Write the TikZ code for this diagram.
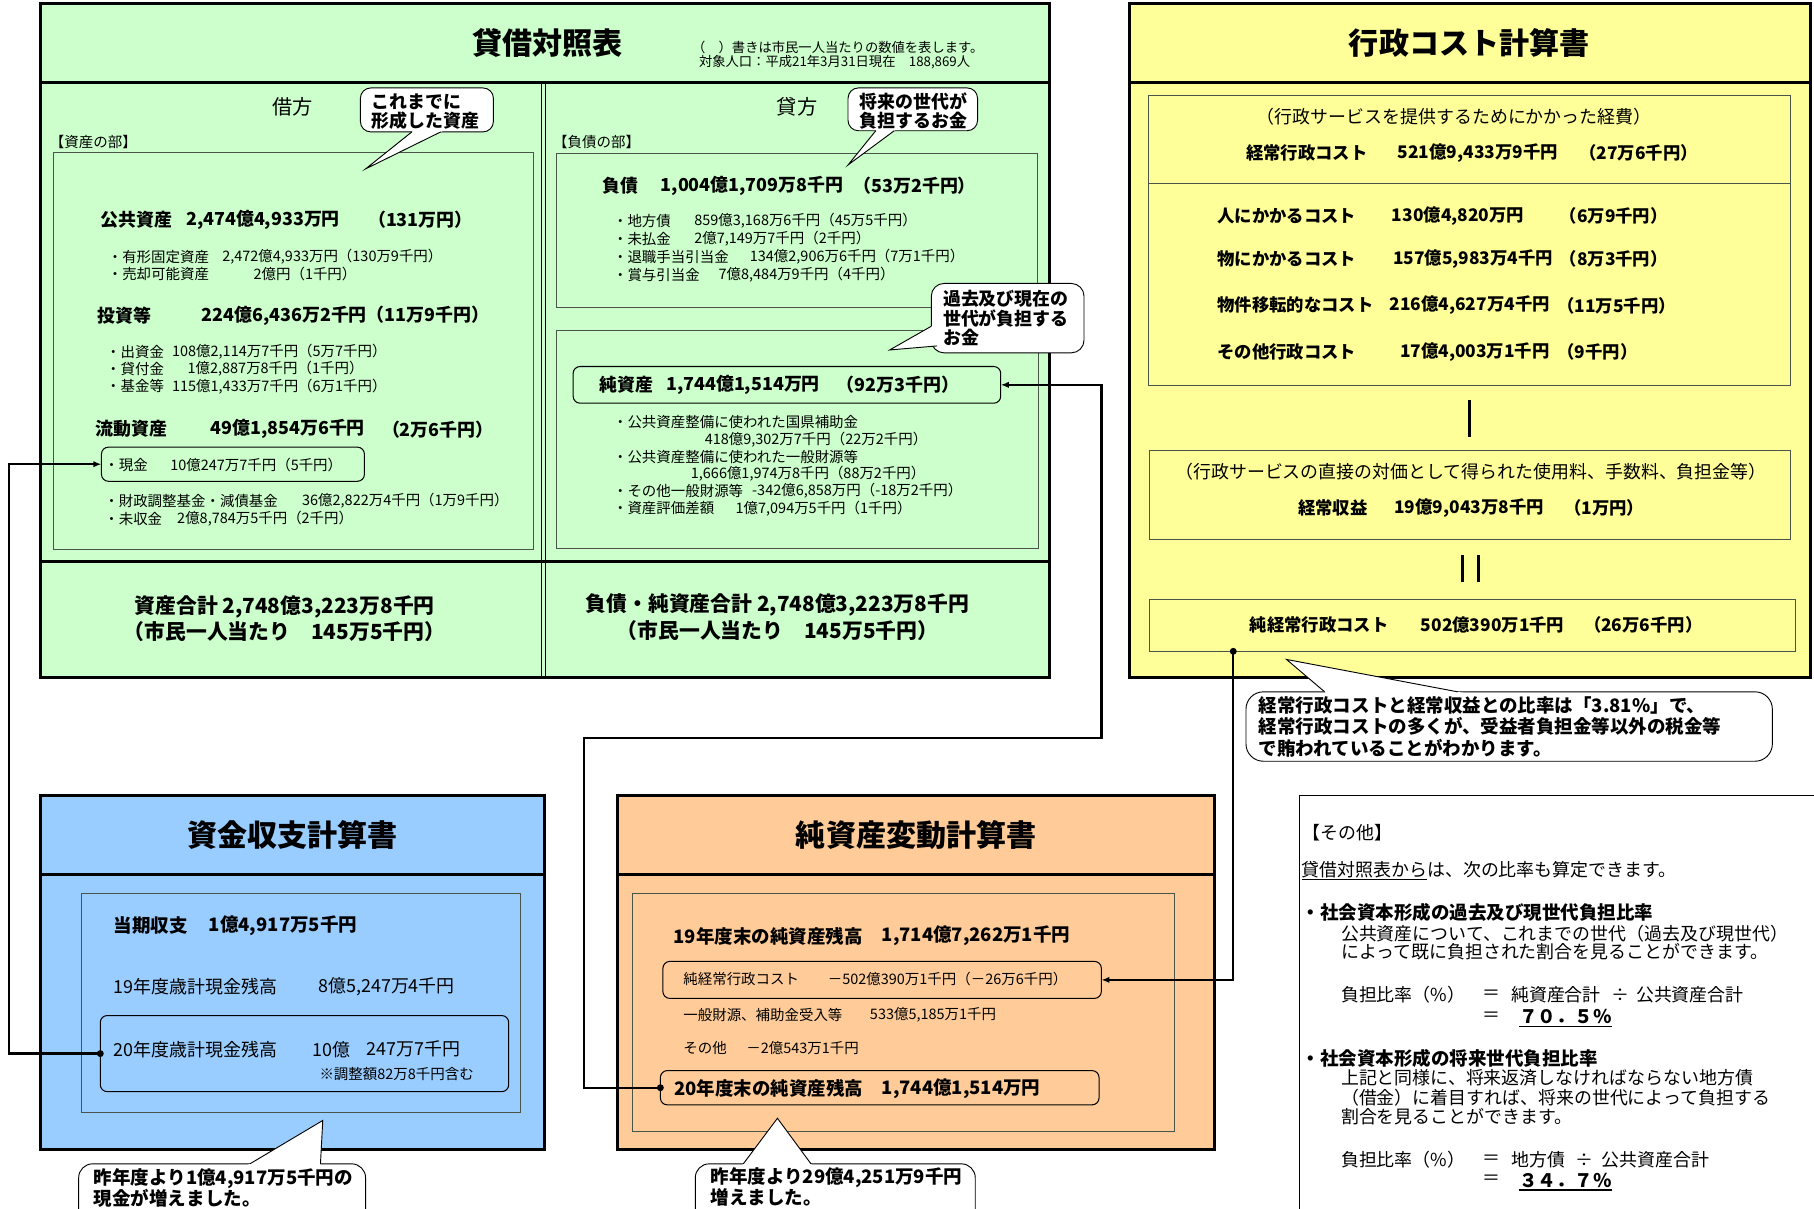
\documentclass[tikz,border=0pt]{standalone}
\usepackage{fontspec}
\setmainfont{Noto Sans CJK JP}
\usetikzlibrary{arrows.meta,calc}
\definecolor{bsgreen}{HTML}{CCFFCC}
\definecolor{acyellow}{HTML}{FFFF99}
\definecolor{cfblue}{HTML}{99CCFF}
\definecolor{naorange}{HTML}{FFCC99}
\definecolor{ingray}{HTML}{4A554A}
\newcommand\calltail[3]{%
  \fill[white] ($(#2)!1.15!(#1)$) -- (#2) -- ($(#2)!1.15!(#3)$) -- cycle;
  \draw[line width=0.8pt,line join=miter] (#1) -- (#2) -- (#3);}
\begin{document}
\begin{tikzpicture}[x=1pt,y=-1pt,
  outerbox/.style={draw=black,line width=2.6pt},
  innerbox/.style={draw=ingray,line width=0.8pt},
  rbox/.style={draw=black,line width=0.9pt,rounded corners=6pt,inner sep=0pt,outer sep=0pt,anchor=north west},
  bub/.style={fill=white,draw=black,line width=0.8pt,rounded corners=9pt},
  conn/.style={line width=2pt,line join=miter},
  arr/.style={-{Latex[length=7pt,width=5.5pt]}},
  R/.style={anchor=west,inner sep=0pt,font=\fontsize{12.5}{15}\selectfont},
  RM/.style={anchor=west,inner sep=0pt,font=\fontsize{12.5}{15}\selectfont},
  RS/.style={anchor=west,inner sep=0pt,font=\fontsize{11.5}{13}\selectfont},
  RL/.style={anchor=west,inner sep=0pt,font=\fontsize{15.5}{18}\selectfont},
  B/.style={anchor=west,inner sep=0pt,font=\bfseries\fontsize{15.5}{18}\selectfont},
  BA/.style={anchor=west,inner sep=0pt,font=\bfseries\fontsize{15}{18}\selectfont},
  BB/.style={anchor=west,inner sep=0pt,font=\bfseries\fontsize{16}{19}\selectfont},
  BC/.style={anchor=center,inner sep=0pt,font=\bfseries\fontsize{18}{21}\selectfont},
  BT/.style={anchor=center,inner sep=0pt,font=\bfseries\fontsize{26}{30}\selectfont},
  HC/.style={anchor=center,inner sep=0pt,font=\fontsize{17.5}{20}\selectfont},
  RC/.style={anchor=center,inner sep=0pt,font=\fontsize{15.5}{18}\selectfont},
  dot/.style={fill=black}
]
\useasboundingbox (0,0) rectangle (1568,1045);
\fill[white] (0,0) rectangle (1568,1045);

% ================= 貸借対照表 =================
\fill[bsgreen] (35,3) rectangle (907,586);
\draw[outerbox] (35,3) rectangle (907,586);
\draw[outerbox] (35,71) -- (907,71);
\draw[outerbox] (35,485) -- (907,485);
\draw[line width=1.2pt] (468.3,71) -- (468.3,586);
\draw[line width=1.2pt] (471.7,71) -- (471.7,586);
\draw[innerbox] (46,132) rectangle (461,475);
\draw[innerbox] (481,132.5) rectangle (897,265.5);
\draw[innerbox] (481,285.5) rectangle (898,474.5);
\node[rbox,minimum width=227.3pt,minimum height=29.5pt] (genkin) at (87.7,386.5) {};
\node[rbox,minimum width=369.6pt,minimum height=31.7pt] (junshisan) at (495.4,316.8) {};

\node[BT] (bsTitle) at (473,37) {貸借対照表};
\node[RS] (bsNote1) at (598,41) {（　）書きは市民一人当たりの数値を表します。};
\node[RS] (bsNote2) at (604,54) {対象人口：平成21年3月31日現在　188,869人};
\node[HC] (kari) at (253,92) {借方};
\node[HC] (kashi) at (689,92) {貸方};
\node[RM] (shisanbu) at (43,123) {【資産の部】};
\node[RM] (fusaibu) at (478,123) {【負債の部】};

\node[B] (a1) at (87,190) {公共資産};
\node[B] (a1v) at (160.7,190) {2,474億4,933万円};
\node[B] (a1p) at (318,190) {（131万円）};
\node[R] (a11) at (93,222) {・有形固定資産};
\node[R] (a11v) at (192,222) {2,472億4,933万円（130万9千円）};
\node[R] (a12) at (93,237) {・売却可能資産};
\node[R] (a12v) at (219,237) {2億円（1千円）};
\node[B] (a2) at (84,273) {投資等};
\node[B] (a2v) at (174,273) {224億6,436万2千円（11万9千円）};
\node[R] (a21) at (91.6,304) {・出資金};
\node[R] (a21v) at (148.6,304) {108億2,114万7千円（5万7千円）};
\node[R] (a22) at (91.6,319) {・貸付金};
\node[R] (a22v) at (162,319) {1億2,887万8千円（1千円）};
\node[R] (a23) at (91.6,334) {・基金等};
\node[R] (a23v) at (148.6,334) {115億1,433万7千円（6万1千円）};
\node[B] (a3) at (82.6,371) {流動資産};
\node[B] (a3v) at (181.7,371) {49億1,854万6千円};
\node[B] (a3p) at (330,371) {（2万6千円）};
\node[R] (a31) at (90,402) {・現金};
\node[R] (a31v) at (147,402) {10億247万7千円（5千円）};
\node[R] (a32) at (90,433) {・財政調整基金・減債基金};
\node[R] (a32v) at (261,433) {36億2,822万4千円（1万9千円）};
\node[R] (a33) at (90,448.5) {・未収金};
\node[R] (a33v) at (153,448.5) {2億8,784万5千円（2千円）};

\node[B] (l1) at (521,160.5) {負債};
\node[B] (l1v) at (571,160.5) {1,004億1,709万8千円};
\node[B] (l1p) at (737.5,160.5) {（53万2千円）};
\node[R] (l11) at (529.7,191) {・地方債};
\node[R] (l11v) at (600,191) {859億3,168万6千円（45万5千円）};
\node[R] (l12) at (529.7,206.5) {・未払金};
\node[R] (l12v) at (600,206.5) {2億7,149万7千円（2千円）};
\node[R] (l13) at (529.7,222) {・退職手当引当金};
\node[R] (l13v) at (648,222) {134億2,906万6千円（7万1千円）};
\node[R] (l14) at (529.7,237.5) {・賞与引当金};
\node[R] (l14v) at (621,237.5) {7億8,484万9千円（4千円）};
\node[B] (n1) at (517.7,332.7) {純資産};
\node[B] (n1v) at (575.6,332.7) {1,744億1,514万円};
\node[B] (n1p) at (723,332.7) {（92万3千円）};
\node[R] (n11) at (529.7,365) {・公共資産整備に使われた国県補助金};
\node[R] (n11v) at (609,380) {418億9,302万7千円（22万2千円）};
\node[R] (n12) at (529.7,395) {・公共資産整備に使われた一般財源等};
\node[R] (n12v) at (597,409.5) {1,666億1,974万8千円（88万2千円）};
\node[R] (n13) at (529.7,424) {・その他一般財源等};
\node[R] (n13v) at (650,424) {-342億6,858万円（-18万2千円）};
\node[R] (n14) at (529.7,439.5) {・資産評価差額};
\node[R] (n14v) at (635.7,439.5) {1億7,094万5千円（1千円）};

\node[BC] (tot1) at (246,525) {資産合計 2,748億3,223万8千円};
\node[BC] (tot1b) at (246,546) {（市民一人当たり　145万5千円）};
\node[BC] (tot2) at (672,523) {負債・純資産合計 2,748億3,223万8千円};
\node[BC] (tot2b) at (672,545) {（市民一人当たり　145万5千円）};

% callouts in balance sheet
\draw[bub] (311.5,76) rectangle (426.5,114);
\calltail{356,114}{316,146}{381,114}
\node[B] (c1a) at (321,88) {これまでに};
\node[B] (c1b) at (321,104) {形成した資産};
\draw[bub] (733,76) rectangle (845,113);
\calltail{757,113}{733,142.6}{773,113}
\node[B] (c2a) at (743,87.5) {将来の世代が};
\node[B] (c2b) at (743,104) {負担するお金};
\draw[bub,rounded corners=11pt] (805,245) rectangle (937,305);
\calltail{805,282}{769,302.5}{810,299}
\node[B] (c3a) at (815,258) {過去及び現在の};
\node[B] (c3b) at (815,275) {世代が負担する};
\node[B] (c3c) at (815,292) {お金};

% ================= 行政コスト計算書 =================
\fill[acyellow] (976,3) rectangle (1565,586);
\draw[outerbox] (976,3) rectangle (1565,586);
\draw[outerbox] (976,71) -- (1565,71);
\draw[innerbox] (993,82.5) rectangle (1548,333);
\draw[innerbox] (993,158.5) -- (1548,158.5);
\draw[innerbox] (994,389) rectangle (1548,466);
\node[draw=ingray,line width=0.8pt,inner sep=0pt,outer sep=0pt,anchor=north west,minimum width=558pt,minimum height=45pt] (nkcost) at (994,518) {};
\draw[line width=3pt] (1270,346) -- (1270,378);
\draw[line width=2.5pt] (1264,480) -- (1264,503);
\draw[line width=2.5pt] (1278,480) -- (1278,503);

\node[BT] (acTitle) at (1270,37) {行政コスト計算書};
\node[RC] (ac0) at (1257,101) {（行政サービスを提供するためにかかった経費）};
\node[BA] (ac1) at (1077,132) {経常行政コスト};
\node[BA] (ac1v) at (1208,132) {521億9,433万9千円};
\node[BA] (ac1p) at (1365,132) {（27万6千円）};
\node[BA] (ac2) at (1052,186.5) {人にかかるコスト};
\node[BA] (ac2v) at (1203,186.5) {130億4,820万円};
\node[BA] (ac2p) at (1348,186.5) {（6万9千円）};
\node[BA] (ac3) at (1052,224) {物にかかるコスト};
\node[BA] (ac3v) at (1204,224) {157億5,983万4千円};
\node[BA] (ac3p) at (1348,224) {（8万3千円）};
\node[BA] (ac4) at (1052,264) {物件移転的なコスト};
\node[BA] (ac4v) at (1201,264) {216億4,627万4千円};
\node[BA] (ac4p) at (1346,264) {（11万5千円）};
\node[BA] (ac5) at (1052,304.5) {その他行政コスト};
\node[BA] (ac5v) at (1210,304.5) {17億4,003万1千円};
\node[BA] (ac5p) at (1346,304.5) {（9千円）};
\node[RC] (ac6) at (1271.5,407.5) {（行政サービスの直接の対価として得られた使用料、手数料、負担金等）};
\node[BA] (ac7) at (1122,439) {経常収益};
\node[BA] (ac7v) at (1205,439) {19億9,043万8千円};
\node[BA] (ac7p) at (1352,439) {（1万円）};
\node[BA] (ac8) at (1080,540.5) {純経常行政コスト};
\node[BA] (ac8v) at (1228,540.5) {502億390万1千円};
\node[BA] (ac8p) at (1369,540.5) {（26万6千円）};

\draw[bub,rounded corners=15pt] (1077,598) rectangle (1532,658);
\calltail{1145,598}{1112,570}{1260,598}
\node[BB] (c4a) at (1088,609.5) {経常行政コストと経常収益との比率は「3.81\%」で、};
\node[BB] (c4b) at (1088,628) {経常行政コストの多くが、受益者負担金等以外の税金等};
\node[BB] (c4c) at (1088,646.5) {で賄われていることがわかります。};

% ================= 資金収支計算書 =================
\fill[cfblue] (35,688) rectangle (471,994);
\draw[outerbox] (35,688) rectangle (471,994);
\draw[outerbox] (35,756) -- (471,756);
\draw[innerbox] (70.7,772.6) rectangle (450,961.4);
\node[rbox,minimum width=353pt,minimum height=65.8pt] (cash20) at (86.7,877.8) {};
\node[BT] (cfTitle) at (253,722) {資金収支計算書};
\node[BB] (cf1) at (98,800) {当期収支};
\node[BB] (cf1v) at (180.4,800) {1億4,917万5千円};
\node[RL] (cf2) at (98,853) {19年度歳計現金残高};
\node[RL] (cf2v) at (275,853) {8億5,247万4千円};
\node[RL] (cf3) at (98,907) {20年度歳計現金残高};
\node[RL] (cf3v) at (269.6,907) {10億};
\node[RL] (cf3w) at (317,907) {247万7千円};
\node[R] (cf4) at (276,928) {※調整額82万8千円含む};

\draw[bub,rounded corners=12pt] (68,1006) rectangle (316,1075);
\calltail{216,1006}{279,968.5}{277,1006}
\node[BB] (c5a) at (81,1018.5) {昨年度より1億4,917万5千円の};
\node[BB] (c5b) at (81,1036) {現金が増えました。};

% ================= 純資産変動計算書 =================
\fill[naorange] (534,688) rectangle (1050,994);
\draw[outerbox] (534,688) rectangle (1050,994);
\draw[outerbox] (534,756) -- (1050,756);
\draw[innerbox] (546.5,772.6) rectangle (1015,978);
\node[rbox,minimum width=379pt,minimum height=32pt] (nkc) at (573,831) {};
\node[rbox,minimum width=379.2pt,minimum height=29.6pt] (na20) at (570.8,925.4) {};
\node[BT] (naTitle) at (792,722) {純資産変動計算書};
\node[BB] (na1) at (582,809) {19年度末の純資産残高};
\node[BB] (na1v) at (762,809) {1,714億7,262万1千円};
\node[R] (na2) at (590.5,846.5) {純経常行政コスト};
\node[R] (na2v) at (715.4,846.5) {－502億390万1千円（－26万6千円）};
\node[R] (na3) at (590.5,877) {一般財源、補助金受入等};
\node[R] (na3v) at (751.8,877) {533億5,185万1千円};
\node[R] (na4) at (590.5,906) {その他};
\node[R] (na4v) at (645,906) {－2億543万1千円};
\node[BB] (na5) at (582.5,940.7) {20年度末の純資産残高};
\node[BB] (na5v) at (762,940.7) {1,744億1,514万円};

\draw[bub,rounded corners=12pt] (601,1006) rectangle (843,1075);
\calltail{642.5,1006}{672,966.6}{701,1006}
\node[BB] (c6a) at (614,1017.7) {昨年度より29億4,251万9千円};
\node[BB] (c6b) at (614,1035) {増えました。};

% ================= その他 =================
\draw[line width=0.9pt] (1572,688) -- (1123,688) -- (1123,1050);
\node[RL] (o1) at (1126,720) {【その他】};
\node[RL] (o2) at (1125,752.4) {\underline{貸借対照表から}は、次の比率も算定できます。};
\node[BB] (o3) at (1125,789) {・社会資本形成の過去及び現世代負担比率};
\node[RL] (o4) at (1159,807) {公共資産について、これまでの世代（過去及び現世代）};
\node[RL] (o5) at (1159,822.5) {によって既に負担された割合を見ることができます。};
\node[RL] (o6) at (1159,860) {負担比率（\%）};
\node[RL] (o6e) at (1281,860) {＝};
\node[RL] (o6a) at (1306,860) {純資産合計};
\node[RL] (o6d) at (1393,860) {÷};
\node[RL] (o6b) at (1414,860) {公共資産合計};
\node[RL] (o7e) at (1281,878.7) {＝};
\node[BB] (o7) at (1313,878.7) {７０．５％};
\draw[line width=1.4pt] ([yshift=-2pt]o7.south west) -- ([yshift=-2pt]o7.south east);
\node[BB] (o8) at (1125,915) {・社会資本形成の将来世代負担比率};
\node[RL] (o9) at (1159,932) {上記と同様に、将来返済しなければならない地方債};
\node[RL] (o10) at (1159,949) {（借金）に着目すれば、将来の世代によって負担する};
\node[RL] (o11) at (1159,965) {割合を見ることができます。};
\node[RL] (o12) at (1159,1002.6) {負担比率（\%）};
\node[RL] (o12e) at (1281,1002.6) {＝};
\node[RL] (o12a) at (1306,1002.6) {地方債};
\node[RL] (o12d) at (1362,1002.6) {÷};
\node[RL] (o12b) at (1384,1002.6) {公共資産合計};
\node[RL] (o13e) at (1281,1020) {＝};
\node[BB] (o13) at (1313,1020) {３４．７％};
\draw[line width=1.4pt] ([yshift=-2pt]o13.south west) -- ([yshift=-2pt]o13.south east);

% ================= connectors =================
\draw[conn,arr] (cash20.west) -- ++(-78.7,0) |- (genkin.west);
\fill[dot] (cash20.west) circle (3pt);

\coordinate (bend2) at (952,638);
\draw[conn,arr] (na20.west) -- ++(-66,0) |- (bend2) |- (junshisan.east);
\fill[dot] (na20.west) circle (3pt);

\path (nkcost.south west) ++(72,0) coordinate (d3);
\draw[conn,arr] (d3) |- (nkc.east);
\fill[dot] (d3) circle (3pt);
\end{tikzpicture}
\end{document}
